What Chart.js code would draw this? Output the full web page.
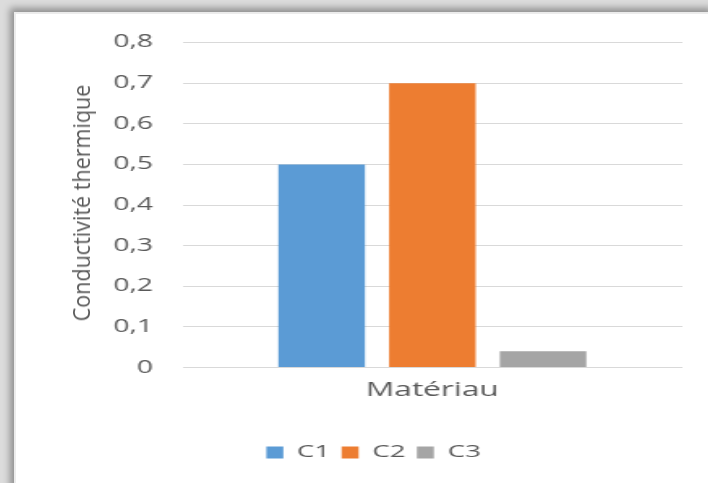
<!DOCTYPE html>
<html>
<head>
<meta charset="utf-8">
<script src="https://cdn.jsdelivr.net/npm/chart.js@4/dist/chart.umd.min.js"></script>
<style>
  html, body { margin: 0; padding: 0; }
  body { width: 708px; height: 483px; overflow: hidden; background: #dcdcdc; position: relative; }
  #card {
    position: absolute; left: 14px; top: 12px; width: 700px; height: 480px;
    background: #fff; border-left: 2px solid #ececec; border-top: 2px solid #ececec;
    box-shadow: -3px -3px 7px 1px rgba(0,0,0,.35);
    box-sizing: border-box;
  }
  #chart { position: absolute; left: 0; top: 0; width: 694px; height: 471px; }
  #ytitle {
    position: absolute; left: 81px; top: 203px;
    font-family: "Open Sans", sans-serif; font-size: 23px; color: #595959;
    white-space: nowrap;
    transform: translate(-50%, -50%) rotate(-90deg) scaleX(0.936);
  }
</style>
</head>
<body>
<div id="card">
  <!-- the reference is stretched sideways, so the canvas is drawn narrow and shown wide -->
  <canvas id="chart" width="428" height="471" style="width:694px;height:471px"></canvas>
</div>
<div id="ytitle">Conductivité thermique</div>
<script>
const categories = ["Matériau"];
const seriesNames = ["C1", "C2", "C3"];
const c1 = [0.5];
const c2 = [0.7];
const c3 = [0.04];
const yTicks = [0, 0.1, 0.2, 0.3, 0.4, 0.5, 0.6, 0.7, 0.8];

const colors = ["#5B9BD5", "#ED7D31", "#A5A5A5"];
const grey = "#595959";

// legend sits a bit left of the plot centre in the reference
const nudgeLegend = {
    id: 'nudgeLegend',
    afterLayout(chart) {
        if (chart.legend) { chart.legend.left -= 6; chart.legend.right -= 6; }
    }
};

document.addEventListener("DOMContentLoaded", function () {
    const ctx = document.getElementById("chart");
    new Chart(ctx, {
        type: 'bar',
        data: {
            labels: categories,
            datasets: [c1, c2, c3].map((d, i) => ({
                label: seriesNames[i], data: d, backgroundColor: colors[i],
                categoryPercentage: 0.664, barPercentage: 0.782
            }))
        },
        options: {
            responsive: false,
            devicePixelRatio: 1,
            animation: false,
            layout: { padding: { left: 42, right: 17, top: 10, bottom: 14 } },
            plugins: {
                legend: {
                    position: 'bottom',
                    labels: {
                        color: grey, boxWidth: 10.5, boxHeight: 12, padding: 7,
                        font: { family: "Open Sans", size: 17 }
                    }
                },
                tooltip: { enabled: false }
            },
            scales: {
                x: {
                    grid: { display: false },
                    border: { display: false },
                    afterFit: axis => { axis.height += 32; },
                    ticks: { color: grey, padding: 3, font: { family: "Open Sans", size: 19.5 } }
                },
                y: {
                    min: 0, max: 0.8,
                    afterBuildTicks: axis => { axis.ticks = yTicks.map(v => ({ value: v })); },
                    grid: { color: "#d9d9d9", drawTicks: false },
                    border: { display: false },
                    ticks: {
                        color: grey, padding: 18,
                        font: { family: "Open Sans", size: 17.5 },
                        callback: v => v === 0 ? "0" : v.toFixed(1).replace(".", ",")
                    }
                }
            }
        },
        plugins: [nudgeLegend]
    });
});
</script>
</body>
</html>
